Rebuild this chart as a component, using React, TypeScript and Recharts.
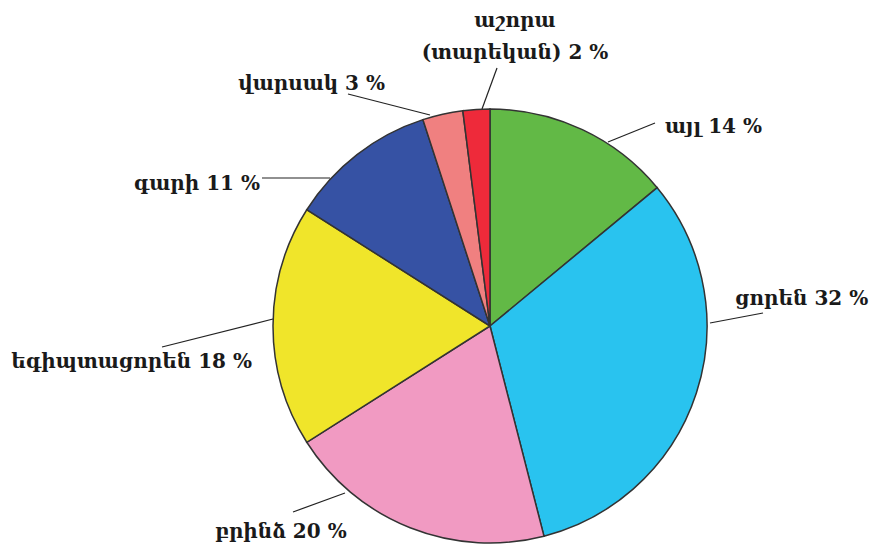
import React from 'react';
import { PieChart, Pie, Cell } from 'recharts';

const categories = ['այլ', 'ցորեն', 'բրինձ', 'եգիպտացորեն', 'գարի', 'վարսակ', 'աշորա'];
const labelTexts = [
  ['այլ 14 %'],
  ['ցորեն 32 %'],
  ['բրինձ 20 %'],
  ['եգիպտացորեն 18 %'],
  ['գարի 11 %'],
  ['վարսակ 3 %'],
  ['աշորա', '(տարեկան) 2 %'],
];
const shares = [14, 32, 20, 18, 11, 3, 2];
const colors = ['#62b946', '#29c3ef', '#f19ac2', '#f0e52a', '#3652a4', '#f08080', '#ee2a3a'];

const data = categories.map((name, i) => ({ name, value: shares[i] }));

// label layout, offsets relative to pie center
const labelLayout = [
  { l1: [118, -184], l2: [165, -203], t: [175, -193], anchor: 'start' },
  { l1: [220, -3], l2: [273, -13], t: [245, -21], anchor: 'start' },
  { l1: [-145, 167], l2: [-197, 186], t: [-275, 212], anchor: 'start' },
  { l1: [-217, -7], l2: [-328, 21], t: [-238, 42], anchor: 'end' },
  { l1: [-160, -148], l2: [-228, -148], t: [-230, -136], anchor: 'end' },
  { l1: [-60, -211], l2: [-142, -232], t: [-105, -236], anchor: 'end' },
  { l1: [-8, -217], l2: [7, -258], t: [25, -299], anchor: 'middle' },
];

const FONT = '"DejaVu Serif", "Liberation Serif", serif';

const renderLabel = (props: any) => {
  const { cx, cy, index } = props;
  const L = labelLayout[index];
  const lines = labelTexts[index];
  return (
    <g key={`lbl-${index}`}>
      <line
        x1={cx + L.l1[0]}
        y1={cy + L.l1[1]}
        x2={cx + L.l2[0]}
        y2={cy + L.l2[1]}
        stroke="#222"
        strokeWidth={1.2}
      />
      {lines.map((s, j) => (
        <text
          key={j}
          x={cx + L.t[0]}
          y={cy + L.t[1] + j * 32}
          textAnchor={L.anchor as any}
          fontFamily={FONT}
          fontWeight="bold"
          fontSize={20}
          fill="#1a1a1a"
        >
          {s}
        </text>
      ))}
    </g>
  );
};

export default function App() {
  return (
    <div style={{ position: 'absolute', left: 0, top: 0, width: 872, height: 548, background: '#fff' }}>
      <PieChart width={872} height={548} margin={{ top: 0, right: 0, bottom: 0, left: 0 }}>
        <Pie
          data={data}
          dataKey="value"
          nameKey="name"
          cx={490}
          cy={326}
          outerRadius={217}
          startAngle={90}
          endAngle={-270}
          stroke="#333"
          strokeWidth={1.5}
          label={renderLabel}
          labelLine={false}
          isAnimationActive={false}
        >
          {data.map((d, i) => (
            <Cell key={d.name} fill={colors[i]} />
          ))}
        </Pie>
      </PieChart>
    </div>
  );
}
